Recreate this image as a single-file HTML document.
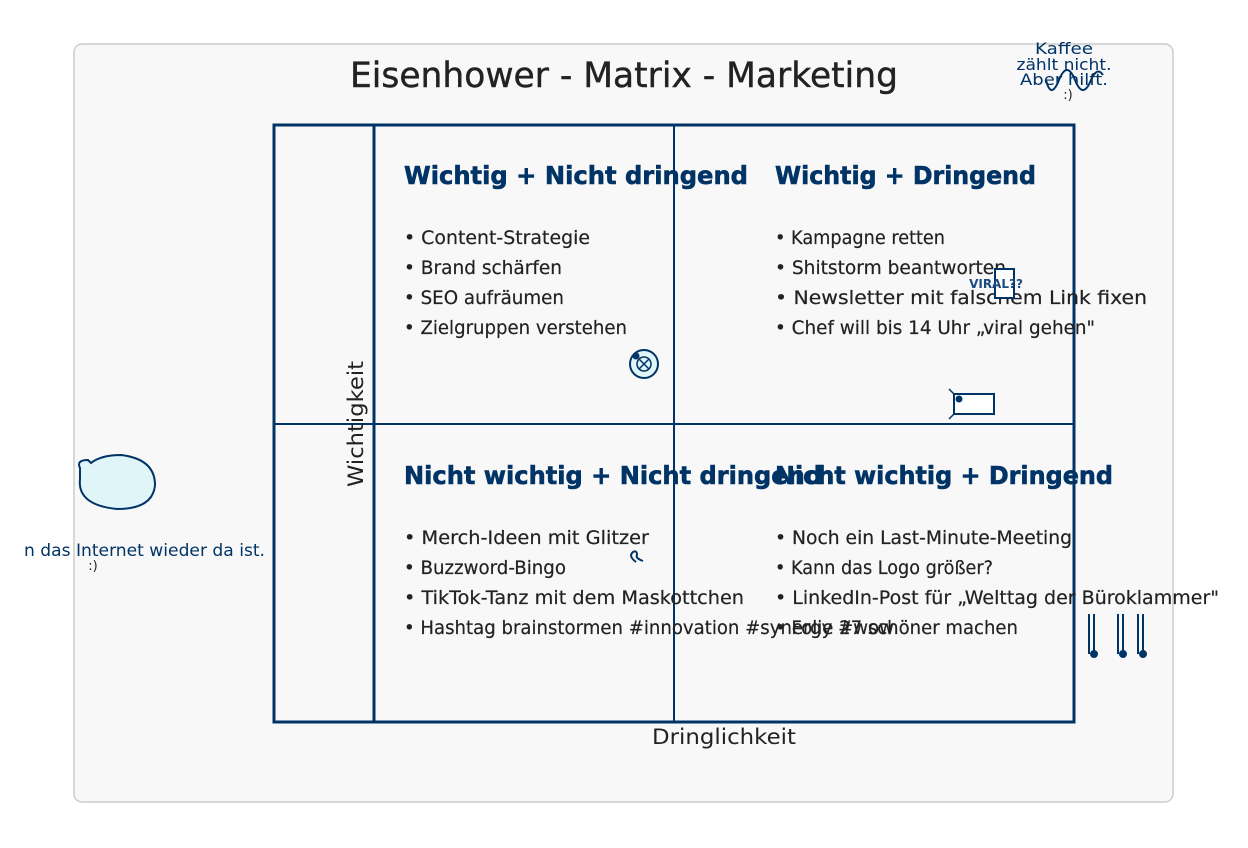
<!DOCTYPE html>
<html><head><meta charset="utf-8"><style>
html,body{margin:0;padding:0;background:#fff;}
svg{display:block;}
text{font-family:"Comic Sans MS","DejaVu Sans","Liberation Sans",sans-serif;}
.h{font-weight:bold;font-size:25px;fill:#003366;stroke:#003366;stroke-width:0.6;}
.b{font-size:19px;fill:#222;stroke:#222;stroke-width:0.2;}
</style></head><body>
<svg width="1248" height="848" viewBox="0 0 1248 848" xmlns="http://www.w3.org/2000/svg">
<rect x="74" y="44" width="1099" height="758" rx="8" fill="#f8f8f8" stroke="#cccccc" stroke-width="1.5"/>
<text x="624" y="87" text-anchor="middle" font-size="35" fill="#222" stroke="#222" stroke-width="0.4" textLength="548" lengthAdjust="spacingAndGlyphs">Eisenhower - Matrix - Marketing</text>
<rect x="274" y="125" width="800" height="597" fill="none" stroke="#003366" stroke-width="3"/>
<line x1="374" y1="125" x2="374" y2="722" stroke="#003366" stroke-width="3"/>
<line x1="674" y1="125" x2="674" y2="722" stroke="#003366" stroke-width="2"/>
<line x1="274" y1="424" x2="1074" y2="424" stroke="#003366" stroke-width="2"/>
<text transform="translate(363,424) rotate(-90)" text-anchor="middle" font-size="21" fill="#222" textLength="126" lengthAdjust="spacingAndGlyphs">Wichtigkeit</text>
<text x="724" y="744" text-anchor="middle" font-size="21" fill="#222" textLength="144" lengthAdjust="spacingAndGlyphs">Dringlichkeit</text>

<text class="h" x="404" y="184" textLength="344" lengthAdjust="spacingAndGlyphs">Wichtig + Nicht dringend</text>
<text class="b" x="404" y="244" textLength="186" lengthAdjust="spacingAndGlyphs">• Content-Strategie</text>
<text class="b" x="404" y="274" textLength="158" lengthAdjust="spacingAndGlyphs">• Brand schärfen</text>
<text class="b" x="404" y="304" textLength="160" lengthAdjust="spacingAndGlyphs">• SEO aufräumen</text>
<text class="b" x="404" y="334" textLength="223" lengthAdjust="spacingAndGlyphs">• Zielgruppen verstehen</text>

<text class="h" x="775" y="184" textLength="261" lengthAdjust="spacingAndGlyphs">Wichtig + Dringend</text>
<text class="b" x="775" y="244" textLength="170" lengthAdjust="spacingAndGlyphs">• Kampagne retten</text>
<text class="b" x="775" y="274" textLength="231" lengthAdjust="spacingAndGlyphs">• Shitstorm beantworten</text>
<text class="b" x="775" y="304" textLength="372" lengthAdjust="spacingAndGlyphs">• Newsletter mit falschem Link fixen</text>
<text class="b" x="775" y="334" textLength="320" lengthAdjust="spacingAndGlyphs">• Chef will bis 14 Uhr „viral gehen"</text>

<text class="h" x="404" y="484" textLength="418" lengthAdjust="spacingAndGlyphs">Nicht wichtig + Nicht dringend</text>
<text class="b" x="404" y="544" textLength="245" lengthAdjust="spacingAndGlyphs">• Merch-Ideen mit Glitzer</text>
<text class="b" x="404" y="574" textLength="162" lengthAdjust="spacingAndGlyphs">• Buzzword-Bingo</text>
<text class="b" x="404" y="604" textLength="340" lengthAdjust="spacingAndGlyphs">• TikTok-Tanz mit dem Maskottchen</text>
<text class="b" x="404" y="634" textLength="490" lengthAdjust="spacingAndGlyphs">• Hashtag brainstormen #innovation #synergy #wow</text>

<text class="h" x="775" y="484" textLength="338" lengthAdjust="spacingAndGlyphs">Nicht wichtig + Dringend</text>
<text class="b" x="775" y="544" textLength="297" lengthAdjust="spacingAndGlyphs">• Noch ein Last-Minute-Meeting</text>
<text class="b" x="775" y="574" textLength="218" lengthAdjust="spacingAndGlyphs">• Kann das Logo größer?</text>
<text class="b" x="775" y="604" textLength="444" lengthAdjust="spacingAndGlyphs">• LinkedIn-Post für „Welttag der Büroklammer"</text>
<text class="b" x="775" y="634" textLength="243" lengthAdjust="spacingAndGlyphs">• Folie 27 schöner machen</text>

<!-- doodles -->
<circle cx="644" cy="364" r="14" fill="#dff5f8" stroke="#003366" stroke-width="2"/>
<circle cx="644" cy="364" r="7" fill="none" stroke="#003366" stroke-width="1.5"/>
<path d="M639 359 L649 369 M649 359 L639 369" stroke="#003366" stroke-width="1.5"/>
<circle cx="636" cy="356" r="3.5" fill="#003366"/>
<path d="M636 562 q-8 -6 -3 -10 q4 -2 4 3 q-2 3 6 6" fill="none" stroke="#003366" stroke-width="2"/>
<rect x="995" y="269" width="19" height="29" fill="#fff" stroke="#003366" stroke-width="2"/>
<text x="996" y="288" text-anchor="middle" font-family="Liberation Sans" font-weight="bold" font-size="12" fill="#1a4a80">VIRAL??</text>
<rect x="954" y="394" width="40" height="20" fill="#fff" stroke="#003366" stroke-width="2"/>
<circle cx="959" cy="399" r="3.5" fill="#003366"/>
<path d="M949 389 l5 5 M949 419 l5 -5" stroke="#003366" stroke-width="1.5"/>
<g stroke="#003366" stroke-width="2" fill="#003366">
<path d="M1089 614 v40 M1094 614 v40 M1118 614 v40 M1123 614 v40 M1138 614 v40 M1143 614 v40" fill="none"/>
<circle cx="1094" cy="654" r="3"/><circle cx="1123" cy="654" r="3"/><circle cx="1143" cy="654" r="3"/>
</g>
<path d="M80 468 q-4 -8 8 -8 l3 3 q10 -8 30 -8 q34 4 34 30 q-2 24 -38 24 q-40 -4 -37 -30 z" fill="#dff5f8" stroke="#003366" stroke-width="2"/>
<text x="24" y="556" font-size="17" fill="#003366" textLength="241" lengthAdjust="spacingAndGlyphs">n das Internet wieder da ist.</text>
<text x="93" y="570" text-anchor="middle" font-size="13" fill="#222">:)</text>
<path d="M1046 80 q5 20 13 0 q8 -20 16 0 q8 20 16 0 q6 -14 12 -5" fill="none" stroke="#003366" stroke-width="2"/>
<text x="1064" y="54" text-anchor="middle" font-size="16" fill="#003366" textLength="58" lengthAdjust="spacingAndGlyphs">Kaffee</text>
<text x="1064" y="70" text-anchor="middle" font-size="16" fill="#003366" textLength="95" lengthAdjust="spacingAndGlyphs">zählt nicht.</text>
<text x="1064" y="85" text-anchor="middle" font-size="16" fill="#003366" textLength="88" lengthAdjust="spacingAndGlyphs">Aber hilft.</text>
<text x="1068" y="99" text-anchor="middle" font-size="13" fill="#222">:)</text>
</svg>
</body></html>
